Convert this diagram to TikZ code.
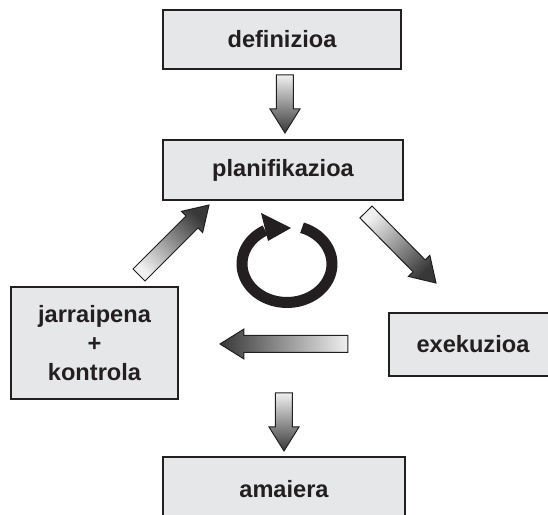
\documentclass[tikz,border=0pt]{standalone}
\usepackage{fontspec}
\setmainfont{Liberation Sans}
\usetikzlibrary{calc}
\definecolor{boxfill}{HTML}{E6E7E8}
\definecolor{ink}{HTML}{231F20}
\newcommand{\blockarrow}[3]{%
  \path ($(#2)!12pt!(#1)$) coordinate (hb);
  \shade[top color=black!78, bottom color=black!6, shading angle=#3, draw=ink, line width=0.5pt, line join=miter]
    ($(#1)!4.25pt!90:(#2)$) -- ($(hb)!4.25pt!90:(#2)$) -- ($(hb)!7.5pt!90:(#2)$) -- (#2)
    -- ($(hb)!7.5pt!-90:(#2)$) -- ($(hb)!4.25pt!-90:(#2)$) -- ($(#1)!4.25pt!-90:(#2)$) -- cycle;
}
\begin{document}
\begin{tikzpicture}[x=0.5pt,y=0.5pt,
  box/.style={draw=ink, line width=1pt, fill=boxfill, text=ink,
    font=\bfseries\fontsize{11.8}{14.3}\selectfont, inner sep=0pt, align=center}]
\useasboundingbox (0,0) rectangle (548,515);
\clip (0,0) rectangle (548,515);
\node[box, minimum width=119pt, minimum height=29.5pt] (def) at (282,475.5) {definizioa};
\node[box, minimum width=120pt, minimum height=30pt] (plan) at (283,345) {planifikazioa};
\node[box, minimum width=83.5pt, minimum height=56pt] (jar) at (94.5,172) {jarraipena\\+\\kontrola};
\node[box, minimum width=84pt, minimum height=31.5pt] (exe) at (473,170.5) {exekuzioa};
\node[box, minimum width=121pt, minimum height=32pt] (ama) at (284,26) {amaiera};
% connectors
\coordinate (a1t) at (285,440); \coordinate (a1h) at (285,382);
\coordinate (a2t) at (284,122); \coordinate (a2h) at (284,64);
\coordinate (a3t) at (348,171); \coordinate (a3h) at (220,171);
\coordinate (a4t) at (139,240); \coordinate (a4h) at (209,310);
\coordinate (a5t) at (366,303); \coordinate (a5h) at (436,232);
\blockarrow{a1t}{a1h}{180}
\blockarrow{a2t}{a2h}{180}
\blockarrow{a3t}{a3h}{90}
\blockarrow{a4t}{a4h}{-45}
\blockarrow{a5t}{a5h}{-135}
% cycle symbol
\coordinate (cc) at (287,251);
\draw[ink, line width=5.5pt] ($(cc)+(70.5:45 and 38.5)$) arc[start angle=70.5, end angle=-241, x radius=45, y radius=38.5];
\fill[ink] (261,302) -- (268,274) -- (291,287) -- cycle;
\end{tikzpicture}
\end{document}
